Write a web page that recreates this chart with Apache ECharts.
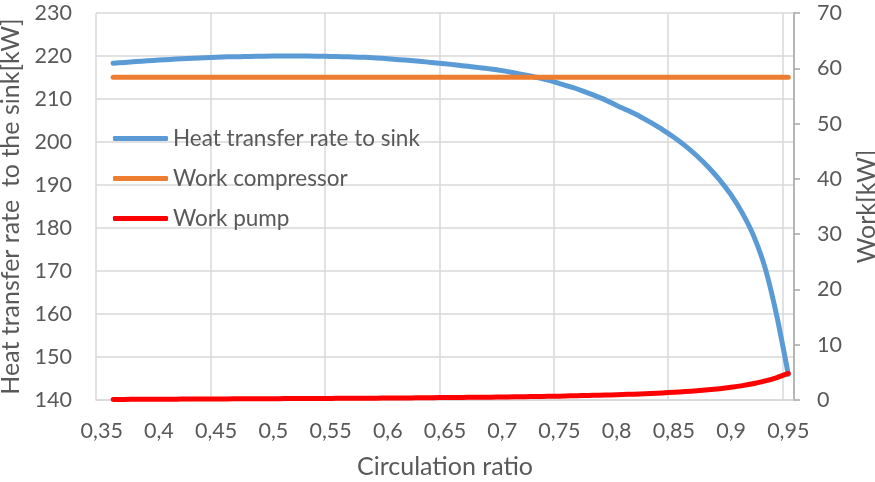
<!DOCTYPE html>
<html>
<head>
<meta charset="utf-8">
<script src="https://cdn.jsdelivr.net/npm/echarts@6/dist/echarts.min.js"></script>
<style>
html,body{margin:0;padding:0;background:#fff;}
#chart{width:875px;height:482px;}
</style>
</head>
<body>
<div id="chart"></div>
<script>
const categories = ['0,35','0,36','0,37','0,38','0,39','0,4','0,41','0,42','0,43','0,44','0,45','0,46','0,47','0,48','0,49','0,5','0,51','0,52','0,53','0,54','0,55','0,56','0,57','0,58','0,59','0,6','0,61','0,62','0,63','0,64','0,65','0,66','0,67','0,68','0,69','0,7','0,71','0,72','0,73','0,74','0,75','0,76','0,77','0,78','0,79','0,8','0,81','0,82','0,83','0,84','0,85','0,86','0,87','0,88','0,89','0,9','0,91','0,92','0,93','0,94','0,95'];

const heatSink = [null,
 218.3,218.5,218.7,218.9,219.05,219.2,219.35,219.5,219.6,219.7,
 219.8,219.85,219.9,219.95,220.0,220.0,220.0,220.0,219.95,219.9,
 219.85,219.75,219.7,219.55,219.35,219.15,218.95,218.7,218.45,218.2,
 217.9,217.6,217.3,217.0,216.6,216.1,215.6,215.05,214.4,213.6,
 212.8,211.9,210.9,209.8,208.5,207.3,206.0,204.5,202.9,201.1,
 199.1,196.8,194.2,191.2,187.7,183.4,178.0,170.5,159.5,146.0];

const workCompressor = [null,
 58.4,58.4,58.4,58.4,58.4,58.4,58.4,58.4,58.4,58.4,
 58.4,58.4,58.4,58.4,58.4,58.4,58.4,58.4,58.4,58.4,
 58.4,58.4,58.4,58.4,58.4,58.4,58.4,58.4,58.4,58.4,
 58.4,58.4,58.4,58.4,58.4,58.4,58.4,58.4,58.4,58.4,
 58.4,58.4,58.4,58.4,58.4,58.4,58.4,58.4,58.4,58.4,
 58.4,58.4,58.4,58.4,58.4,58.4,58.4,58.4,58.4,58.4];

const workPump = [null,
 0.10,0.11,0.12,0.13,0.14,0.15,0.16,0.17,0.18,0.19,
 0.20,0.21,0.22,0.23,0.24,0.25,0.26,0.27,0.28,0.29,
 0.30,0.31,0.32,0.33,0.35,0.36,0.38,0.40,0.42,0.44,
 0.46,0.48,0.50,0.52,0.55,0.58,0.61,0.64,0.67,0.70,
 0.75,0.80,0.85,0.90,0.95,1.02,1.10,1.18,1.28,1.40,
 1.53,1.68,1.85,2.05,2.30,2.60,2.98,3.45,4.05,4.80];

const seriesNames = ['Heat transfer rate to sink','Work compressor','Work pump'];
const xAxisName = 'Circulation ratio';
const leftAxisName = 'Heat transfer rate  to the sink[kW]';
const rightAxisName = 'Work[kW]';

const FONT = 'Lato';
const TXT = '#595959';
const GRID = '#d9d9d9';
const FS = 21.5;
const FS_LEG = 22.5;
const FS_NAME = 25;

const chart = echarts.init(document.getElementById('chart'), null, {renderer:'canvas'});
chart.setOption({
  animation: false,
  backgroundColor: '#fff',
  textStyle: {fontFamily: FONT},
  grid: {left: 96, right: 81, top: 13, bottom: 82, containLabel: false, outerBoundsMode: 'none'},
  legend: {
    orient: 'vertical', left: 113, top: 127, itemGap: 17, padding: 0,
    itemWidth: 55, itemHeight: 5, icon: 'roundRect',
    textStyle: {fontFamily: FONT, fontSize: FS_LEG, color: TXT},
    data: seriesNames
  },
  xAxis: {
    type: 'category', data: categories, boundaryGap: true,
    name: xAxisName, nameLocation: 'middle', nameGap: 54,
    nameTextStyle: {fontFamily: FONT, fontSize: FS_NAME, color: TXT},
    axisLine: {show: true, lineStyle: {color: GRID, width: 1.5}},
    axisTick: {show: false},
    axisLabel: {interval: 4, margin: 20, fontFamily: FONT, fontSize: FS, color: TXT},
    splitLine: {show: true, interval: 9, lineStyle: {color: GRID, width: 1.5}}
  },
  yAxis: [{
    type: 'value', min: 140, max: 230, interval: 10, position: 'left',
    name: leftAxisName, nameLocation: 'middle', nameGap: 60,
    nameTextStyle: {fontFamily: FONT, fontSize: FS_NAME, color: TXT},
    axisLine: {show: false}, axisTick: {show: false},
    axisLabel: {margin: 24, fontFamily: FONT, fontSize: FS, color: TXT},
    splitLine: {show: true, lineStyle: {color: GRID, width: 1.5}}
  },{
    type: 'value', min: 0, max: 70, interval: 10, position: 'right',
    name: rightAxisName, nameLocation: 'middle', nameGap: 60,
    nameTextStyle: {fontFamily: FONT, fontSize: FS_NAME, color: TXT},
    axisLine: {show: true, lineStyle: {color: '#a6a6a6', width: 1.5}},
    axisTick: {show: true, inside: false, length: 6, lineStyle: {color: '#a6a6a6', width: 1.5}},
    axisLabel: {margin: 23, fontFamily: FONT, fontSize: FS, color: TXT},
    splitLine: {show: false}
  }],
  series: [{
    name: seriesNames[0], type: 'line', yAxisIndex: 0, data: heatSink,
    showSymbol: false, symbol: 'none', smooth: 0.2, color: '#5b9bd5',
    lineStyle: {width: 5, color: '#5b9bd5', cap: 'round', join: 'round'}
  },{
    name: seriesNames[1], type: 'line', yAxisIndex: 1, data: workCompressor,
    showSymbol: false, symbol: 'none', color: '#ed7d31',
    lineStyle: {width: 5, color: '#ed7d31', cap: 'round', join: 'round'}
  },{
    name: seriesNames[2], type: 'line', yAxisIndex: 1, data: workPump,
    showSymbol: false, symbol: 'none', smooth: 0.2, color: '#ff0000',
    lineStyle: {width: 5, color: '#ff0000', cap: 'round', join: 'round'}
  }]
});
</script>
</body>
</html>
